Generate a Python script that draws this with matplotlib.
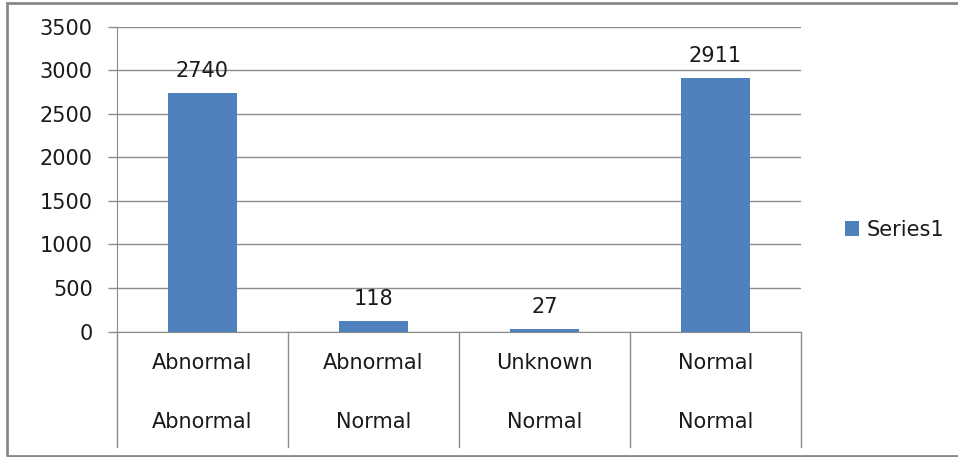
import matplotlib
matplotlib.use("Agg")
import matplotlib.pyplot as plt
from matplotlib.patches import Rectangle, Patch
from matplotlib.lines import Line2D

# counts per (outer, inner) label pair
outer_labels = ["Abnormal", "Abnormal", "Unknown", "Normal"]
inner_labels = ["Abnormal", "Normal", "Normal", "Normal"]
counts = [2740, 118, 27, 2911]
series_name = "Series1"

BAR = "#4F81BD"
GRID = "#8C8C8C"
TXT = "#1a1a1a"
FS = 15

plt.rcParams["font.family"] = ["DejaVu Sans"]

fig = plt.figure(figsize=(9.58, 4.57), dpi=100)
ax = fig.add_axes([0.1221, 0.2746, 0.714, 0.6674])

x = list(range(len(counts)))
ax.bar(x, counts, width=0.4, color=BAR, zorder=3)
ax.set_xlim(-0.5, len(counts) - 0.5)
ax.set_ylim(0, 3500)
ax.set_yticks(range(0, 3501, 500))
ax.tick_params(axis="y", length=6.5, width=1, color=GRID, pad=11,
               labelsize=FS, labelcolor=TXT)
ax.tick_params(axis="x", length=0, labelbottom=False)
ax.grid(axis="y", color=GRID, linewidth=1, zorder=0)

for s in ("top", "right"):
    ax.spines[s].set_visible(False)
ax.spines["left"].set_color(GRID)
ax.spines["bottom"].set_color(GRID)

for xi, v in zip(x, counts):
    ax.annotate(f"{v}", (xi, v), xytext=(0, 16), textcoords="offset points",
                ha="center", va="center", fontsize=FS, color=TXT)

# two-level category axis below the plot
trans = ax.get_xaxis_transform()
for edge in [i - 0.5 for i in range(len(counts) + 1)]:
    ax.add_line(Line2D([edge, edge], [0, -0.378], transform=trans,
                       color=GRID, linewidth=1, clip_on=False))
for xi, top, bot in zip(x, outer_labels, inner_labels):
    ax.text(xi, -0.103, top, transform=trans, ha="center", va="center",
            fontsize=FS, color=TXT)
    ax.text(xi, -0.296, bot, transform=trans, ha="center", va="center",
            fontsize=FS, color=TXT)

fig.legend(handles=[Patch(facecolor=BAR, label=series_name)],
           loc="center left", bbox_to_anchor=(0.862, 0.497), frameon=False,
           handlelength=0.7, handleheight=0.7, handletextpad=0.35,
           fontsize=FS, labelcolor=TXT)

# chart border
fig.patches.append(Rectangle((0.0078, 0.0022), 1.1, 0.9912,
                             transform=fig.transFigure, fill=False,
                             edgecolor="#888888", linewidth=2, clip_on=False))

fig.savefig("out.png", dpi=100)
